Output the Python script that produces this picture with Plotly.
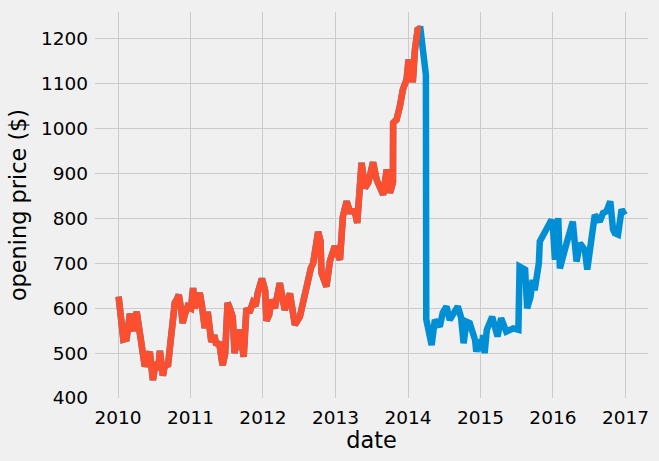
import plotly.graph_objects as go

# Pre-split period (drawn in red on top of the full blue series)
dates_early = [
    "2010-01-04", "2010-01-11", "2010-01-19", "2010-01-28", "2010-02-13", "2010-03-02",
    "2010-03-10", "2010-03-19", "2010-04-05", "2010-04-21", "2010-05-07", "2010-05-16",
    "2010-05-28", "2010-06-10", "2010-06-26", "2010-07-10", "2010-07-22", "2010-07-31",
    "2010-08-15", "2010-08-27", "2010-09-09", "2010-09-28", "2010-10-14", "2010-10-25",
    "2010-11-03", "2010-11-14", "2010-11-23", "2010-12-03", "2010-12-18", "2011-01-04",
    "2011-01-14", "2011-01-23", "2011-02-05", "2011-02-17", "2011-02-28", "2011-03-14",
    "2011-03-29", "2011-04-16", "2011-05-01", "2011-05-11", "2011-05-25", "2011-06-12",
    "2011-06-25", "2011-07-07", "2011-07-18", "2011-08-02", "2011-08-11", "2011-08-25",
    "2011-09-06", "2011-09-26", "2011-10-10", "2011-10-25", "2011-11-11", "2011-11-25",
    "2011-12-06", "2011-12-27", "2012-01-12", "2012-01-19", "2012-02-01", "2012-02-13",
    "2012-03-01", "2012-03-26", "2012-04-20", "2012-05-16", "2012-06-10", "2012-07-05",
    "2012-07-20", "2012-07-30", "2012-08-15", "2012-08-30", "2012-09-10", "2012-09-20",
    "2012-10-01", "2012-10-05", "2012-10-17", "2012-10-22", "2012-11-16", "2012-12-03",
    "2012-12-28", "2013-01-23", "2013-02-07", "2013-02-26", "2013-03-14", "2013-04-08",
    "2013-04-20", "2013-05-12", "2013-05-29", "2013-06-15", "2013-07-09", "2013-07-27",
    "2013-08-29", "2013-09-16", "2013-10-02", "2013-10-17", "2013-10-18", "2013-11-04",
    "2013-11-21", "2013-12-06", "2013-12-25", "2014-01-04", "2014-01-20", "2014-01-26",
    "2014-02-05", "2014-02-20", "2014-02-27",
]
open_early = [
    626, 600, 545, 530, 532, 588,
    560, 550, 592, 545, 500, 470,
    490, 503, 440, 480, 462, 505,
    450, 478, 470, 535, 612, 620,
    630, 600, 567, 585, 604, 600,
    645, 600, 615, 634, 605, 556,
    592, 525, 540, 518, 525, 473,
    500, 612, 600, 580, 500, 530,
    552, 492, 600, 590, 612, 605,
    634, 666, 640, 572, 585, 619,
    600, 656, 596, 633, 563, 581,
    610, 640, 671, 690, 700, 740,
    760, 770, 750, 679, 648, 704,
    738, 708, 805, 838, 816, 816,
    790, 924, 868, 880, 925, 886,
    853, 909, 857, 880, 1013, 1020,
    1050, 1087, 1110, 1154, 1110, 1110,
    1177, 1225, 1222,
]

# Post-peak period (blue)
dates_late = [
    "2014-03-03", "2014-03-12", "2014-03-24", "2014-04-01", "2014-04-03", "2014-04-15",
    "2014-04-30", "2014-05-16", "2014-06-10", "2014-06-25", "2014-07-14", "2014-07-30",
    "2014-08-20", "2014-09-09", "2014-09-25", "2014-10-08", "2014-10-23", "2014-11-08",
    "2014-12-05", "2014-12-11", "2014-12-25", "2015-01-05", "2015-01-14", "2015-01-22",
    "2015-02-02", "2015-03-01", "2015-03-28", "2015-04-15", "2015-05-11", "2015-06-15",
    "2015-07-11", "2015-07-17", "2015-08-14", "2015-08-24", "2015-09-10", "2015-09-21",
    "2015-10-01", "2015-10-22", "2015-10-27", "2015-11-21", "2015-12-05", "2015-12-25",
    "2016-01-02", "2016-01-11", "2016-01-28", "2016-02-05", "2016-03-10", "2016-03-26",
    "2016-04-10", "2016-04-29", "2016-05-16", "2016-06-10", "2016-06-22", "2016-07-14",
    "2016-07-30", "2016-08-24", "2016-09-09", "2016-09-27", "2016-10-16", "2016-10-30",
    "2016-11-08", "2016-11-24", "2016-12-12", "2016-12-28",
]
open_late = [
    1228, 1200, 1150, 1120, 575, 545,
    518, 574, 559, 590, 604, 574,
    590, 604, 580, 522, 570, 567,
    529, 503, 530, 505, 540, 500,
    552, 581, 537, 578, 548, 555,
    552, 693, 686, 600, 625, 663,
    640, 700, 749, 771, 786, 797,
    774, 708, 801, 689, 745, 771,
    793, 704, 745, 730, 686, 757,
    808, 793, 812, 816, 838, 775,
    767, 764, 820, 808,
]

y_ticks = [400, 500, 600, 700, 800, 900, 1000, 1100, 1200]
x_ticks = ["2010-01-01", "2011-01-01", "2012-01-01", "2013-01-01",
           "2014-01-01", "2015-01-01", "2016-01-01", "2017-01-01"]
x_tick_text = ["2010", "2011", "2012", "2013", "2014", "2015", "2016", "2017"]

BLUE = "#008fd5"
RED = "#fc4f30"
BG = "#f0f0f0"
GRID = "#cbcbcb"
FONT = "DejaVu Sans"

fig = go.Figure()
fig.add_trace(go.Scatter(
    x=dates_early + dates_late, y=open_early + open_late, mode="lines",
    line=dict(color=BLUE, width=6.5), showlegend=False,
))
fig.add_trace(go.Scatter(
    x=dates_early, y=open_early, mode="lines",
    line=dict(color=RED, width=6.5), showlegend=False,
))

fig.update_layout(
    width=659, height=461,
    margin=dict(l=95, r=11, t=12, b=63),
    paper_bgcolor=BG, plot_bgcolor=BG,
    font=dict(family=FONT, color="#000000", size=18),
)
fig.update_xaxes(
    range=["2009-09-07", "2017-04-24"],
    tickvals=x_ticks, ticktext=x_tick_text,
    showgrid=True, gridcolor=GRID, gridwidth=1.3,
    zeroline=False, showline=False, ticks="",
    ticklabelstandoff=6,
    tickfont=dict(size=18.5),
    title=dict(text="date", font=dict(size=22.4), standoff=0),
)
fig.update_yaxes(
    range=[400, 1260],
    tickvals=y_ticks,
    showgrid=True, gridcolor=GRID, gridwidth=1.3,
    zeroline=False, showline=False, ticks="",
    ticklabelstandoff=6,
    tickfont=dict(size=18.5),
    title=dict(text="opening price ($)", font=dict(size=22.4), standoff=8),
)

fig.write_html("out.html")
